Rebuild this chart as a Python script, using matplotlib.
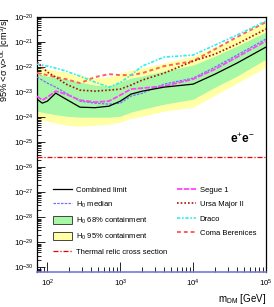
import numpy as np
import matplotlib
matplotlib.use("Agg")
import matplotlib.pyplot as plt
from matplotlib.lines import Line2D
from matplotlib.patches import Patch
from matplotlib.ticker import LogLocator, NullFormatter

plt.rcParams['font.family'] = ['Liberation Sans', 'DejaVu Sans']
plt.rcParams['mathtext.fontset'] = 'custom'
plt.rcParams['mathtext.rm'] = 'Liberation Sans'
plt.rcParams['mathtext.it'] = 'Liberation Sans:italic'
plt.rcParams['mathtext.bf'] = 'Liberation Sans:bold'

# dark matter mass grid (GeV)
mass = [72, 85, 100, 130, 180, 280, 450, 700, 1000, 1400, 2000, 4000, 1e4, 2e4, 4e4, 1e5]

# log10 of <sigma v> upper limits (cm^3/s)
combined = [-23.28, -23.44, -23.36, -23.04, -23.28, -23.60, -23.62, -23.56, -23.36, -23.08,
            -22.96, -22.80, -22.68, -22.28, -21.84, -21.20]
h0_median = [-22.40, -22.52, -22.64, -22.80, -23.04, -23.36, -23.44, -23.48, -23.44, -23.16,
             -23.04, -22.68, -22.44, -22.00, -21.52, -20.88]
segue1 = [-23.16, -23.32, -23.20, -22.96, -23.08, -23.32, -23.40, -23.36, -23.12, -22.88,
          -22.84, -22.76, -22.48, -22.08, -21.60, -20.96]
ursa_major2 = [-21.80, -22.00, -22.20, -22.40, -22.68, -22.92, -22.96, -22.92, -22.88, -22.72,
               -22.52, -22.24, -21.76, -21.48, -21.08, -20.48]
draco = [-21.88, -21.92, -21.96, -22.04, -22.16, -22.36, -22.60, -22.80, -22.62, -22.32,
         -21.96, -21.60, -21.52, -21.12, -20.72, -20.16]
coma_ber = [-22.24, -22.28, -22.32, -22.40, -22.48, -22.64, -22.40, -22.28, -22.32, -22.32,
            -22.24, -21.96, -21.76, -21.28, -20.80, -20.20]

# containment bands (log10)
band68_lo = [-23.76, -23.80, -23.84, -23.90, -23.96, -24.00, -24.00, -24.00, -23.96, -23.80,
             -23.68, -23.48, -23.28, -22.80, -22.36, -21.68]
band68_hi = [-22.28, -22.32, -22.36, -22.42, -22.48, -22.60, -22.72, -22.76, -22.60, -22.44,
             -22.36, -22.16, -21.92, -21.56, -21.16, -20.60]
band95_lo = [-24.08, -24.12, -24.16, -24.24, -24.32, -24.36, -24.32, -24.28, -24.20, -24.04,
             -23.96, -23.76, -23.60, -23.12, -22.64, -22.00]
band95_hi = [-22.00, -22.04, -22.08, -22.14, -22.20, -22.32, -22.44, -22.40, -22.24, -22.12,
             -22.04, -21.84, -21.56, -21.20, -20.80, -20.16]

thermal_xs = 2.5e-26

x_ticks = [1e2, 1e3, 1e4, 1e5]
x_ticklabels = ['$10^{2}$', '$10^{3}$', '$10^{4}$', '$10^{5}$']
y_exps = list(range(-30, -19))


def lin(v):
    return 10.0 ** np.array(v)


fig = plt.figure(figsize=(2.74, 3.07), dpi=100)
ax = fig.add_axes([37 / 274, 35 / 307, 229 / 274, 255 / 307])

ax.fill_between(mass, lin(band95_lo), lin(band95_hi), color='#ffffa6', lw=0, zorder=1)
ax.fill_between(mass, lin(band68_lo), lin(band68_hi), color='#a6f7a6', lw=0, zorder=2)

ax.plot(mass, [thermal_xs] * len(mass), color='#ee0000', lw=0.9, ls=(0, (4, 1.5, 1, 1.5)), zorder=3)
ax.plot(mass, lin(h0_median), color='#7070ff', lw=0.9, ls=(0, (2, 1)), zorder=4)
ax.plot(mass, lin(coma_ber), color='#ff6060', lw=1.4, ls=(0, (2, 1.5)), zorder=4)
ax.plot(mass, lin(draco), color='#33eeee', lw=1.2, ls=(0, (2, 1, 1, 1)), zorder=4)
ax.plot(mass, lin(ursa_major2), color='#aa1111', lw=1.2, ls=(0, (1, 1.2)), zorder=4)
ax.plot(mass, lin(segue1), color='#ff44ff', lw=1.3, ls=(0, (3, 0.8)), zorder=5)
ax.plot(mass, lin(combined), color='black', lw=0.9, zorder=6)

ax.set_xscale('log')
ax.set_yscale('log')
ax.set_xlim(72, 1e5)
ax.set_ylim(6.6e-31, 1e-20)

ax.set_xticks(x_ticks)
ax.set_xticklabels(x_ticklabels)
ax.set_yticks([10.0 ** e for e in y_exps])
ax.set_yticklabels(['$10^{%d}$' % e for e in y_exps])
ax.xaxis.set_minor_locator(LogLocator(base=10, subs=np.arange(2, 10), numticks=20))
ax.xaxis.set_minor_formatter(NullFormatter())
ax.yaxis.set_minor_locator(LogLocator(base=10, subs=np.arange(2, 10), numticks=40))
ax.yaxis.set_minor_formatter(NullFormatter())

ax.tick_params(which='both', direction='in', top=False, right=False, labelsize=5.6, width=0.6)
ax.tick_params(axis='y', which='major', length=6, pad=2.2)
ax.tick_params(axis='y', which='minor', length=3)
ax.tick_params(axis='x', which='major', length=7, pad=4)
ax.tick_params(axis='x', which='minor', length=3.5)

for sp in ax.spines.values():
    sp.set_linewidth(0.9)
ax.spines['bottom'].set_color('#7777dd')
ax.spines['bottom'].set_linewidth(1.2)

ax.set_ylabel('95% <σ v>$^{\\rm UL}$ [cm$^{3}$/s]', fontsize=6.6)
ax.yaxis.set_label_coords(-0.108, 0.835)
ax.set_xlabel('m$_{\\rm DM}$ [GeV]', fontsize=7, loc='right', labelpad=2)

ax.text(0.843, 0.52, 'e$^{+}$e$^{-}$', transform=ax.transAxes, fontsize=8.5,
        fontweight='bold', ha='left', va='center')

h_left = [
    Line2D([], [], color='black', lw=0.9),
    Line2D([], [], color='#7070ff', lw=0.9, ls=(0, (2, 1))),
    Patch(facecolor='#a6f7a6', edgecolor='#444444', lw=0.7),
    Patch(facecolor='#ffffa6', edgecolor='#444444', lw=0.7),
    Line2D([], [], color='#ee0000', lw=0.9, ls=(0, (4, 1.5, 1, 1.5))),
]
l_left = ['Combined limit', 'H$_{0}$ median', 'H$_{0}$ 68% containment',
          'H$_{0}$ 95% containment', 'Thermal relic cross section']
h_right = [
    Line2D([], [], color='#ff44ff', lw=1.3, ls=(0, (3, 0.8))),
    Line2D([], [], color='#aa1111', lw=1.2, ls=(0, (1, 1.2))),
    Line2D([], [], color='#33eeee', lw=1.2, ls=(0, (2, 1, 1, 1))),
    Line2D([], [], color='#ff6060', lw=1.4, ls=(0, (2, 1.5))),
]
l_right = ['Segue 1', 'Ursa Major II', 'Draco', 'Coma Berenices']

kw = dict(frameon=False, fontsize=5.5, borderpad=0, borderaxespad=0, handlelength=2.5,
          handleheight=1.3, handletextpad=0.5, labelspacing=0.75, loc='upper left')
leg1 = ax.legend(h_left, l_left, bbox_to_anchor=(0.07, 0.34), **kw)
ax.add_artist(leg1)
ax.legend(h_right, l_right, bbox_to_anchor=(0.611, 0.34), **kw)

fig.savefig('out.png', dpi=100)
